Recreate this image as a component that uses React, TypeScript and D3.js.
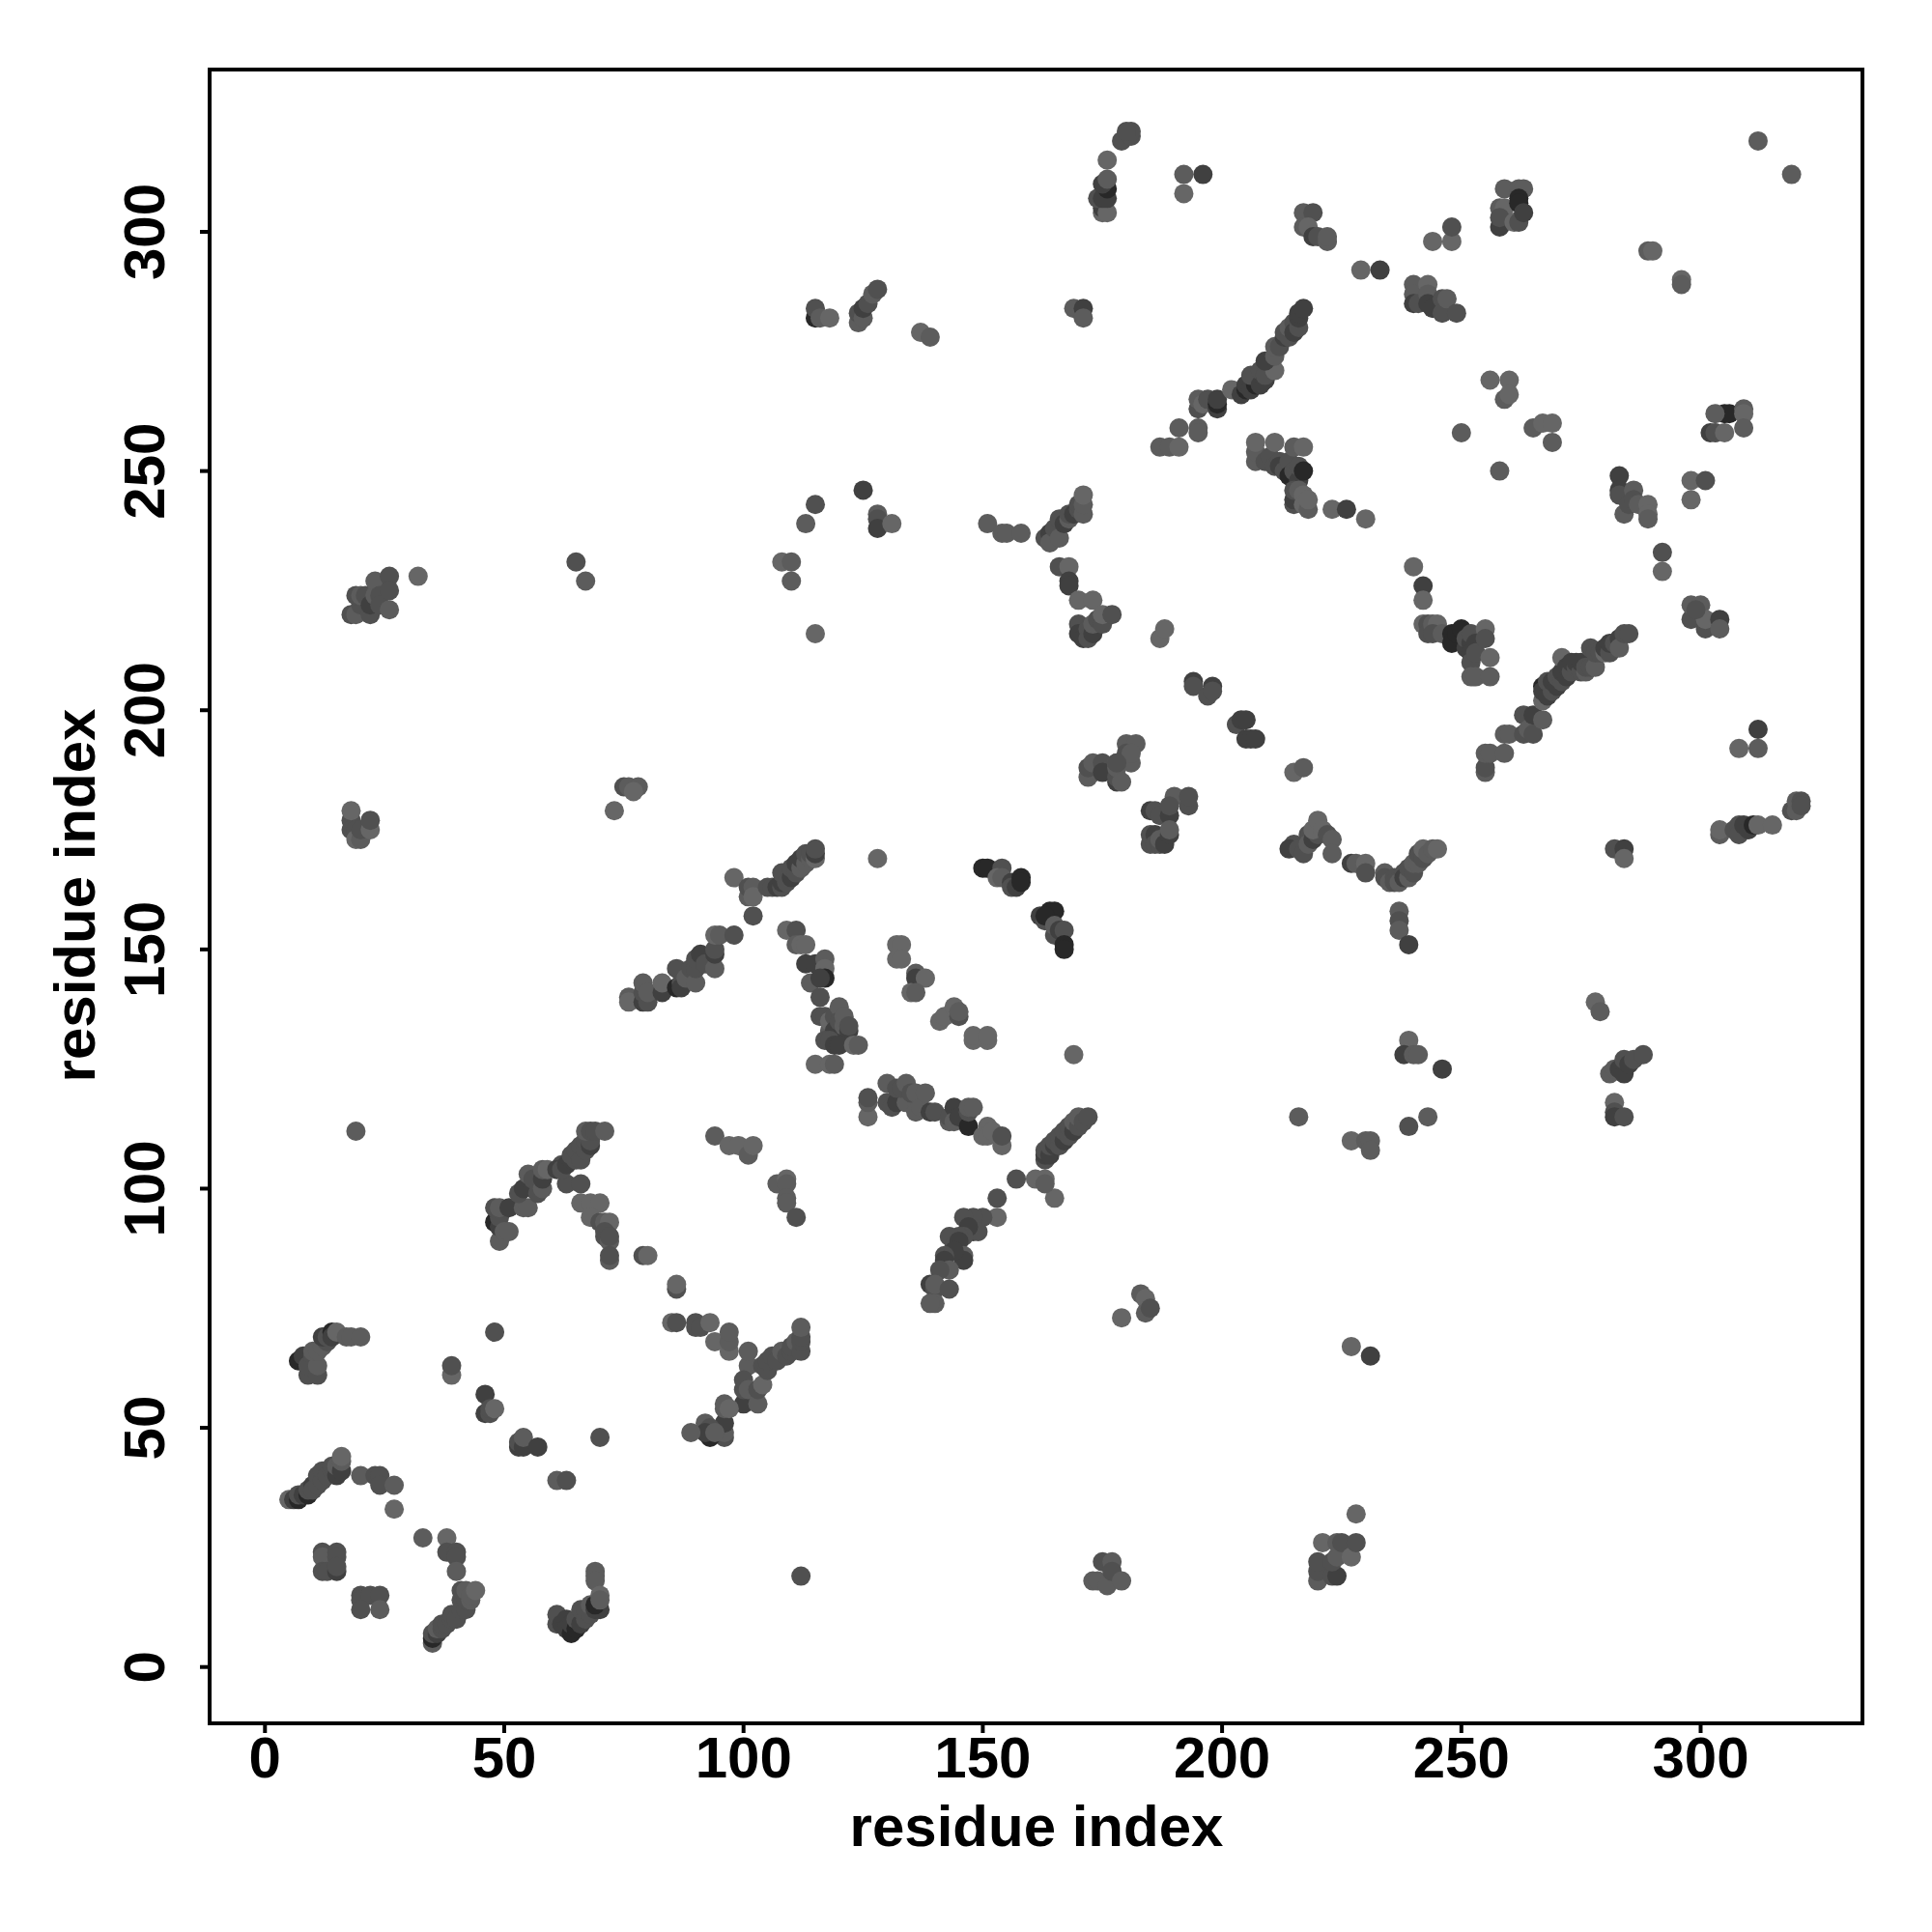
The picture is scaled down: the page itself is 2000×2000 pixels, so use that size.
import React from "react";
import * as d3 from "d3";

type P = [number, number, number];

const tickValues = [0, 50, 100, 150, 200, 250, 300];
const axisTitle = "residue index";
const shades = ["#666666", "#5c5c5c", "#505050", "#404040", "#282828"];

const lowerLeft: P[] = [
  [5,35,0],[6,35,3],[7,35,4],[7,36,2],[8,36,3],[9,36,4],[9,37,2],[10,38,3],[10,37,2],[11,38,2],[11,40,2],[12,39,2],[12,41,2],[13,40,2],[14,41,2],[14,42,2],[15,40,3],[15,42,1],[16,41,3],[16,43,1],[16,44,0],[20,40,1],[23,40,2],[24,40,2],[24,38,2],[27,38,1],[27,33,0],[33,27,1],[38,27,0],[38,24,2],[40,24,2],[40,23,2],[40,20,1],
  [12,24,2],[12,23,1],[15,24,2],[15,23,2],[12,20,2],[13,20,2],[15,20,3],[15,21,2],[20,15,2],[20,14,2],[22,15,2],[24,15,2],[20,12,2],[24,12,1],
  [35,5,1],[35,6,4],[35,7,2],[36,7,3],[36,8,1],[37,8,2],[37,9,2],[38,9,2],[39,10,2],[39,11,2],[40,10,2],[41,12,2],[41,14,2],[41,16,2],[42,12,2],[42,14,2],[42,16,1],[43,14,1],[43,15,1],[44,16,0],
  [61,9,2],[61,11,2],[62,9,3],[63,10,3],[63,8,3],[64,7,4],[64,9,3],[65,8,4],[65,10,2],[66,9,3],[66,12,2],[67,10,2],[67,12,2],[68,11,2],[68,13,1],[69,12,3],[70,12,3],[69,13,4],[69,20,1],[69,19,1],[69,18,1],[70,15,0],[70,14,1],
  [7,64,4],[8,65,3],[9,61,2],[9,63,2],[10,65,2],[11,61,2],[11,63,1],[10,66,1],[11,66,1],[12,67,1],[13,68,2],[12,69,3],[13,69,2],[14,70,4],[14,69,3],[15,70,0],[17,69,1],[18,69,1],[20,69,1],
  [39,61,0],[39,63,2],[46,57,3],[46,53,3],[47,53,2],[47,54,2],[48,54,0],[48,70,2],[53,46,3],[53,47,2],[54,46,3],[54,48,1],[57,46,3],[61,39,1],[63,39,2],[70,48,2],[112,19,2],
];

const betaA: P[] = [
  [49,89,1],[48,93,4],[49,92,3],[49,94,2],[50,91,1],[51,91,1],[48,96,2],[49,96,1],[51,96,3],[54,96,1],[55,96,1],[53,99,2],[54,100,3],[55,103,1],[56,100,3],[56,102,2],[57,99,2],[58,100,1],[58,102,3],[58,104,1],[59,104,0],
  [63,101,2],[66,101,2],[62,105,2],[61,104,3],[62,104,2],[63,105,3],[64,106,3],[65,106,2],[64,107,2],[65,108,2],[66,106,2],[66,109,2],[67,108,2],[67,110,2],[68,109,3],[68,110,2],[67,112,1],[68,112,2],[69,112,2],[71,112,1],
  [66,97,0],[68,97,0],[70,97,0],[68,94,0],[70,93,2],[71,93,1],[72,93,0],[71,90,2],[71,91,2],[72,89,1],[72,90,2],[72,85,1],[72,86,2],[79,86,2],[80,86,0],[86,79,2],[86,80,0],
  [85,72,0],[86,72,2],[90,72,2],[90,71,2],[91,71,2],[93,72,0],[94,68,0],[97,66,0],[97,68,1],[97,70,1],
  [101,63,1],[101,66,1],[100,55,3],[100,58,2],[100,60,2],[101,58,1],[103,55,1],[103,58,2],[104,59,0],[104,63,2],[105,62,2],[105,64,2],[106,65,2],[107,64,2],[108,66,1],[109,65,2],[110,66,2],[110,67,2],[111,68,1],[112,66,2],[112,68,2],[112,69,2],[112,71,1],
  [96,48,2],[96,49,1],[96,51,3],[96,54,1],[96,55,1],[97,54,0],[92,51,1],[93,48,4],[93,50,2],[92,49,3],[94,49,1],[89,49,1],
  [94,111,1],[97,109,0],[99,109,0],[101,107,1],[102,109,0],[107,101,1],[109,102,0],[109,101,1],[109,98,1],[109,97,1],[111,94,2],
];

const betaB: P[] = [
  [76,140,1],[76,139,0],[79,139,3],[79,141,2],[79,143,1],[80,139,2],[80,141,1],[83,141,3],[83,143,0],[86,142,4],[86,146,2],[87,143,2],[87,142,3],[88,144,1],[89,146,2],[90,143,1],[90,146,2],[90,148,2],[91,149,3],[92,147,2],[94,146,1],[94,149,3],[94,150,2],[94,153,0],[95,153,1],[98,153,2],[98,165,0],
  [101,161,1],[101,163,2],[102,163,1],[102,161,0],[102,157,2],[105,163,2],[106,163,2],[107,163,3],[108,163,2],[108,164,3],[108,166,2],[109,164,2],[110,165,3],[110,167,2],[111,166,2],[111,168,3],[112,167,1],[112,169,3],[113,168,1],[113,170,2],[114,169,1],[114,170,2],[115,169,0],[115,170,3],[115,171,2],
  [128,169,0],
  [109,154,0],[111,154,2],[111,151,1],[112,151,0],[113,151,0],[113,147,3],[114,143,1],[115,147,3],[117,148,1],[117,146,0],[117,144,4],[116,144,3],[116,140,2],[116,136,2],[117,136,2],[118,133,1],[118,135,0],[119,136,2],[119,133,3],[120,138,1],[120,135,2],[121,134,1],[121,136,1],[122,133,3],[122,134,2],[117,131,2],[118,131,2],[119,130,3],[120,130,3],[123,130,0],[124,130,1],
  [115,126,0],[118,126,0],[119,126,1],[132,151,0],[133,151,0],[132,148,0],[133,148,0],[136,145,1],[136,144,3],[138,144,0],[135,141,0],[136,141,1],[141,135,0],[142,136,0],[144,138,0],[145,136,2],[145,137,1],[148,131,0],[148,132,0],[151,131,0],[151,132,0],[169,128,0],
  [150,167,4],[151,167,4],[154,167,2],[153,165,0],[154,165,1],[156,164,3],[156,163,2],[157,163,3],[158,165,4],[158,164,4],
  [162,157,3],[163,156,2],[164,158,4],[165,158,4],[163,157,4],[165,153,2],[165,155,1],[166,154,3],[167,154,2],[167,151,4],[167,150,4],
];

const betaC: P[] = [
  [126,115,0],[126,118,1],[126,119,2],[130,118,2],[130,122,1],[131,117,2],[133,119,3],[132,118,3],[134,118,1],[132,121,2],[133,121,2],[134,122,1],[135,120,2],[136,120,1],[136,116,1],[137,117,1],[138,120,1],[139,116,3],[140,116,2],[143,114,1],[143,115,2],[144,117,3],[144,114,1],[145,115,3],[147,113,4],[147,116,2],[147,117,1],[148,117,1],[151,113,0],[150,111,0],[151,111,0],[152,112,0],[154,109,0],[154,111,2],
  [157,102,2],[161,102,0],[163,102,0],[165,98,0],[163,101,1],[163,106,2],[163,107,3],[163,108,2],[164,107,3],[164,109,2],[165,109,3],[165,110,2],[166,109,2],[166,111,2],[167,110,3],[167,112,2],[168,111,2],[168,113,2],[169,112,3],[169,114,1],[170,113,2],[170,115,1],[171,114,2],[172,115,2],
  [153,98,2],[153,94,0],[150,94,2],[148,94,2],[146,94,2],[148,91,3],[149,91,2],[147,92,3],[146,90,2],[145,90,2],[143,90,2],[144,88,2],[145,89,3],[146,86,1],[146,85,3],[144,87,3],[142,86,2],[142,85,3],[143,83,1],[141,83,2],[139,80,3],[140,79,2],[140,80,1],[143,79,2],[140,76,1],[139,76,1],
];

const midRight: P[] = [
  [173,187,2],[172,186,1],[172,188,2],[173,189,1],[175,189,2],[175,187,3],[178,185,3],[178,186,2],[178,188,1],[178,189,1],[180,193,1],[182,193,1],[180,191,2],[181,189,1],[181,191,1],
  [185,179,3],[186,179,2],[187,178,2],[189,178,3],[190,182,1],[189,180,2],[193,180,2],[193,182,2],[185,174,2],[185,172,2],[186,174,3],[186,172,2],[187,172,2],[187,173,1],[188,172,3],[189,174,3],[189,175,1],
  [187,215,0],[188,217,0],[194,206,3],[194,205,2],[197,203,2],[198,205,3],[198,204,2],[203,197,2],[204,198,3],[205,198,3],[205,194,3],[206,194,3],[207,194,3],[215,187,0],[217,188,1],
  [179,185,1],[178,189,2],
  [215,172,2],[214,171,3],[216,171,2],[217,170,2],[218,174,2],[218,172,1],[219,173,3],[220,174,2],[219,175,0],[220,177,0],[221,175,0],[222,174,2],[223,173,1],[223,170,1],[227,168,3],[228,168,1],[230,168,0],[230,166,2],
  [234,166,1],[234,165,2],[235,164,1],[236,165,2],[236,164,2],[237,164,1],[238,166,2],[238,165,3],[239,165,1],[239,167,2],[240,166,2],[240,168,1],[241,168,1],[241,170,2],[242,169,2],[242,171,0],[243,170,1],[244,171,1],[245,171,0],
  [237,158,1],[237,156,2],[237,154,1],[239,151,3],
  [282,171,2],[284,171,3],[284,169,0],[304,174,1],[304,175,0],[307,175,2],[308,176,2],[308,174,2],[309,176,3],[310,175,3],[311,176,4],[312,176,0],[315,176,0],[319,179,2],[320,179,1],[320,181,1],[321,181,2],[321,180,2],
  [312,196,3],[312,192,1],[308,192,0],
];

const upperRight: P[] = [
  [255,187,1],[255,188,2],[255,191,1],[256,191,1],[259,191,1],[259,195,1],[260,195,1],[263,195,2],[263,199,2],[264,196,1],[265,195,2],[265,199,3],[267,198,1],[267,202,0],[267,205,4],[267,204,3],[268,203,3],[268,206,2],[269,204,2],[269,206,3],[270,205,3],[270,207,2],[271,206,2],[271,208,3],[271,211,0],[272,207,3],[272,209,3],[273,208,2],[273,210,3],[274,209,2],[274,210,3],[275,208,2],[275,210,3],[276,208,1],[276,209,2],[277,209,2],[278,209,1],
  [277,213,2],[278,212,2],[279,212,2],[280,212,0],[280,213,3],[281,212,2],[281,214,3],[282,214,2],[283,215,3],[283,213,1],[284,216,2],[285,216,2],
  [240,230,0],[242,226,3],[242,223,0],[242,218,0],[243,218,2],[243,216,2],[244,218,1],[245,218,0],[244,216,2],[246,216,1],[248,216,4],[248,214,4],[249,216,4],[250,217,4],[251,213,3],[251,215,2],[252,214,3],[252,216,2],[252,212,3],[252,210,2],[253,214,3],[253,212,2],[255,217,0],[255,215,2],[256,211,0],[252,207,1],[253,207,1],[256,207,1],
  [18,220,2],[19,220,1],[20,222,2],[22,220,2],[19,224,2],[20,224,1],[21,224,2],[22,222,3],[23,224,1],[23,227,1],[24,224,2],[24,222,2],[26,228,2],[26,225,2],[26,221,1],[32,228,0],
  [18,177,2],[18,175,2],[18,179,0],[19,175,2],[19,173,0],[20,173,1],[20,175,2],[22,175,0],[22,177,2],[73,179,0],[75,184,2],[76,184,1],[78,184,1],[77,183,0],[19,112,1],[65,231,2],[67,227,1],
  [108,231,0],[110,231,1],[110,227,1],[115,216,0],[113,239,1],[115,243,2],[125,246,3],[128,241,1],[128,240,2],[128,238,3],[131,239,0],
  [115,282,4],[115,284,2],[116,282,1],[118,282,0],[124,281,1],[124,283,2],[125,282,1],[125,284,3],[126,285,2],[127,287,1],[128,288,2],[137,279,0],[139,278,1],[169,284,1],[171,284,3],[171,282,1],
  [175,304,0],[175,305,3],[176,304,0],[174,307,2],[175,307,3],[176,307,3],[176,309,4],[175,310,3],[176,311,1],[176,315,0],[180,320,2],[179,319,2],[181,320,2],[181,321,2],[180,321,2],[192,312,1],[192,308,0],[196,312,3],
  [217,304,1],[219,304,2],[217,301,1],[218,301,0],[219,299,3],[220,299,2],[222,298,1],[222,299,1],[229,292,0],[233,292,3],
  [240,289,1],[240,287,1],[240,285,3],[241,285,2],[243,289,0],[243,287,1],[243,285,3],[244,284,3],[246,286,2],[246,283,2],[247,286,1],[249,283,2],[244,298,0],[248,298,0],[248,301,2],
  [259,309,1],[262,309,1],[263,309,1],[258,305,1],[259,305,0],[262,307,4],[262,306,4],[258,301,3],[258,303,2],[261,302,0],[262,302,2],[263,304,3],
  [289,296,1],[290,296,0],[296,290,0],[296,289,1],[312,319,1],[319,312,1],
  [256,269,0],[260,269,0],[259,265,1],[260,266,0],[250,258,1],[258,250,1],[265,259,1],[267,260,0],[269,260,0],[269,256,1],
  [283,249,3],[283,246,3],[283,245,2],[284,241,1],[285,243,2],[286,246,1],[286,244,2],[287,243,1],[289,243,0],[289,241,0],[289,240,1],[292,233,2],[292,229,0],
  [298,248,0],[301,248,2],[298,244,0],[302,258,3],[303,258,2],[305,258,0],[305,262,4],[306,262,4],[303,262,1],[309,263,1],[309,262,0],[309,259,1],
  [298,219,2],[298,222,1],[300,222,1],[301,217,2],[301,219,0],[304,219,3],[304,217,1],[299,221,2],
  [278,139,0],[279,137,1],[281,124,1],[282,125,1],[282,118,0],[282,116,2],[282,115,3],[284,115,2],[283,125,3],[284,124,3],[284,127,2],[285,126,3],[286,127,2],[288,128,2],
  [239,131,0],[238,128,3],[240,128,1],[241,128,1],[246,125,3],[243,115,1],[239,113,2],[216,115,1],[227,110,0],[230,110,1],[231,110,1],[231,108,1],
  [179,73,0],[183,78,1],[184,77,0],[184,74,1],[185,75,2],[227,67,0],[231,65,3],
  [173,18,1],[174,18,1],[175,22,2],[177,22,1],[176,17,1],[177,20,2],[179,18,1],
  [220,18,1],[220,20,2],[220,22,2],[221,26,0],[223,19,2],[224,19,3],[223,22,2],[224,23,1],[224,26,1],[225,26,2],[227,23,0],[228,26,2],[228,32,0],
];

const helixTop: P[] = [
  [151,239,1],[154,237,1],[155,237,1],[158,237,1],[163,236,2],[164,237,3],[164,235,1],[165,238,2],[166,236,1],[166,240,2],[167,239,3],[168,240,1],[168,241,2],[169,241,3],[170,242,2],[170,243,2],[171,241,1],[171,243,1],[171,245,0],
  [166,230,2],[168,230,0],[168,227,3],[168,226,3],[170,223,0],[173,223,0],[170,218,2],[170,216,3],[171,215,3],[172,217,2],[172,215,2],[173,216,3],[173,218,1],[174,219,2],[175,218,2],[175,220,0],[177,220,2],
  [187,255,1],[189,255,1],[191,255,0],[191,259,1],[195,259,1],[195,258,1],[195,263,2],[195,265,1],[196,264,0],[197,265,2],[199,263,3],[199,264,4],[199,265,3],
  [202,267,0],[204,266,3],[205,267,4],[205,268,3],[206,267,3],[207,268,4],[206,270,2],[208,268,3],[208,271,2],[209,269,3],[209,270,2],[210,273,2],[211,271,0],[209,273,3],[211,274,1],[211,276,1],[212,276,2],[213,278,3],[213,279,2],[214,278,2],[214,280,1],[215,281,2],[215,279,3],[216,280,2],[216,282,3],[216,283,3],[217,284,3],
  [207,252,1],[207,254,1],[207,256,0],[209,252,2],[210,253,2],[211,256,0],[211,251,2],[212,252,2],[212,251,3],[213,250,2],[214,252,2],[214,249,4],[215,255,1],[215,250,2],[216,248,3],[216,251,2],[217,255,0],[217,250,4],
  [215,243,2],[215,244,3],[215,246,2],[216,246,1],[217,245,0],[217,243,0],[218,242,1],[218,244,0],[223,242,0],[226,242,3],[230,240,0],
];

const points: P[] = [...lowerLeft, ...betaA, ...betaB, ...betaC, ...midRight, ...upperRight, ...helixTop];

const x = d3.scaleLinear().domain([0, 300]).range([274.3, 1760.5]);
const y = d3.scaleLinear().domain([0, 300]).range([1725.7, 240]);
const F = { l: 217, r: 1928, t: 72, b: 1784 };
const font = "'Liberation Sans', Arial, sans-serif";

export default function App() {
  return (
    <svg width={2000} height={2000} style={{ position: "absolute", left: 0, top: 0, background: "#fff" }}>
      <g>
        {points.map((p, i) => (
          <circle key={i} cx={x(p[0])} cy={y(p[1])} r={10} fill={shades[p[2]]} />
        ))}
      </g>
      <rect x={F.l} y={F.t} width={F.r - F.l} height={F.b - F.t} fill="none" stroke="#000" strokeWidth={4} />
      <g fontFamily={font} fontWeight="bold" fontSize={60} fill="#000">
        {tickValues.map((t) => (
          <g key={t}>
            <line x1={x(t)} x2={x(t)} y1={F.b} y2={F.b + 10} stroke="#000" strokeWidth={4} />
            <text x={x(t)} y={1840} textAnchor="middle">{t}</text>
            <line x1={F.l} x2={F.l - 10} y1={y(t)} y2={y(t)} stroke="#000" strokeWidth={4} />
            <text transform={`translate(170,${y(t)}) rotate(-90)`} textAnchor="middle">{t}</text>
          </g>
        ))}
        <text x={1073} y={1911} textAnchor="middle" fontSize={60}>{axisTitle}</text>
        <text transform={`translate(98,927) rotate(-90)`} textAnchor="middle" fontSize={60}>{axisTitle}</text>
      </g>
    </svg>
  );
}
